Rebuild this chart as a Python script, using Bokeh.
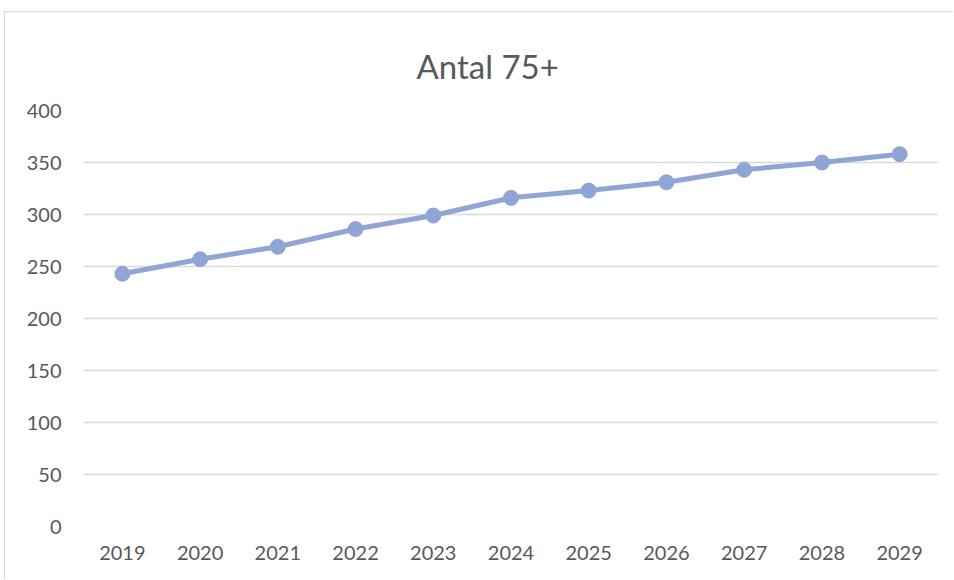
from bokeh.plotting import figure
from bokeh.models import ColumnDataSource, FactorRange, Range1d, FixedTicker
from bokeh.embed import file_html
from bokeh.resources import INLINE

years = ["2019", "2020", "2021", "2022", "2023", "2024", "2025", "2026", "2027", "2028", "2029"]
values = [243, 257, 269, 286, 299, 316, 323, 331, 343, 350, 358]
y_ticks = [0, 50, 100, 150, 200, 250, 300, 350, 400]
title_text = "Antal 75+"

src = ColumnDataSource(data=dict(year=years, value=values))

p = figure(
    width=949, height=568,
    x_range=FactorRange(*years, range_padding=0),
    y_range=Range1d(0, 400),
    output_backend="svg", toolbar_location=None,
    min_border_left=78, min_border_right=16, min_border_top=98, min_border_bottom=54,
)
p.styles = {"border-left": "1px solid #d9d9d9", "border-top": "1px solid #d9d9d9",
            "margin-left": "4px", "margin-top": "11px"}

p.title.text = title_text
p.title.align = "left"
p.title.offset = 333
p.title.vertical_align = "top"
p.title.text_font = "Lato"
p.title.text_font_size = "33px"
p.title.text_font_style = "normal"
p.title.text_color = "#595959"
p.title.standoff = 46

p.outline_line_color = None
p.background_fill_color = "white"
p.border_fill_color = "white"

p.xgrid.grid_line_color = None
p.ygrid.grid_line_color = "#d9d9d9"
p.ygrid.grid_line_width = 1.5
p.yaxis.ticker = FixedTicker(ticks=y_ticks)

for ax in (p.xaxis, p.yaxis):
    ax.axis_line_color = None
    ax.major_tick_line_color = None
    ax.minor_tick_line_color = None
    ax.major_label_text_font = "Lato"
    ax.major_label_text_font_size = "20px"
    ax.major_label_text_color = "#595959"
p.yaxis.major_label_standoff = 16
p.xaxis.major_label_standoff = 13

p.line("year", "value", source=src, line_color="#8fa5d6", line_width=5)
p.scatter("year", "value", source=src, size=15, fill_color="#8fa5d6", line_color="#8fa5d6")

open("out.html", "w").write(file_html(p, INLINE))
